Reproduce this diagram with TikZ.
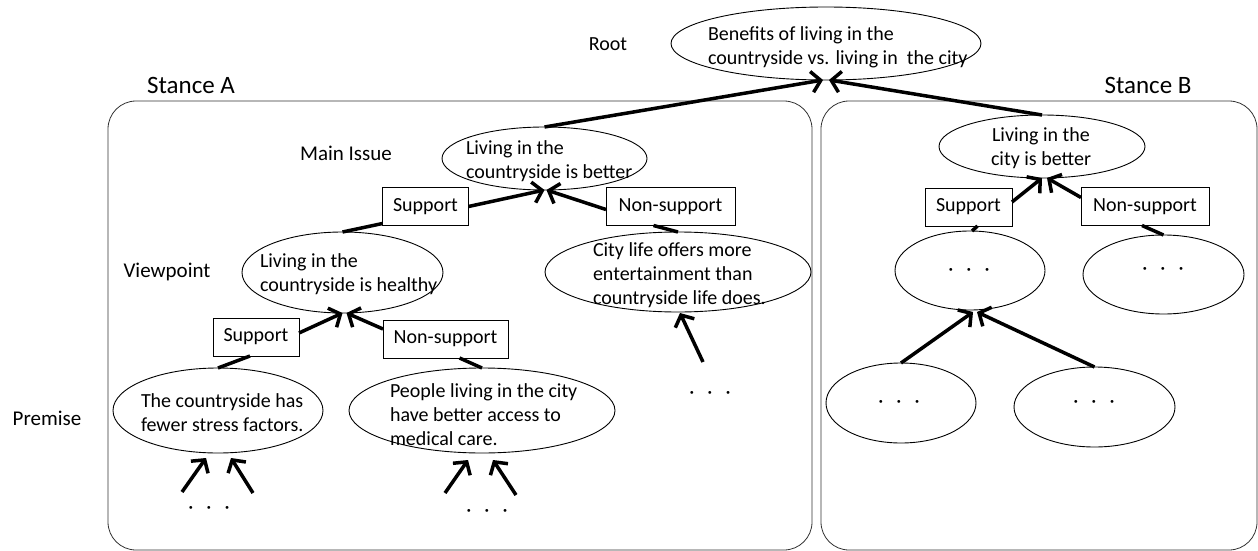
\documentclass[tikz,border=0pt]{standalone}
\usepackage{fontspec}
\setmainfont{Carlito}
\usetikzlibrary{shapes.geometric,arrows.meta}
\begin{document}
\begin{tikzpicture}[x=1pt,y=-1pt,
  every node/.style={font=\fontsize{20}{24}\selectfont, inner sep=0pt, outer sep=0pt},
  oval/.style={draw, ellipse, line width=0.9pt, inner sep=0pt},
  txt/.style={align=left, anchor=west},
  lbl/.style={anchor=base},
  stance/.style={anchor=base, font=\fontsize{25}{30}\selectfont},
  rel/.style={draw, rectangle, line width=0.9pt, minimum height=38pt},
  arr/.style={line width=3.5pt, -{Straight Barb[length=9pt,width=21pt]}},
  link/.style={line width=3.5pt},
  frame/.style={draw, rounded corners=28pt, line width=0.8pt, black!80},
  dots/.style={anchor=base}]
\useasboundingbox (0,0) rectangle (1258,551);
% frames
\draw[frame] (108,101) rectangle (812,550);
\draw[frame] (821,101) rectangle (1257,550);
% labels
\node[stance] (stA) at (191,93) {Stance A};
\node[stance] (stB) at (1148,93) {Stance B};
\node[lbl] (lroot) at (608,51) {Root};
\node[lbl, font=\fontsize{21}{25}\selectfont] (lmain) at (346,160) {Main Issue};
\node[lbl, font=\fontsize{21}{25}\selectfont] (lview) at (167,277) {Viewpoint};
\node[lbl, font=\fontsize{21}{25}\selectfont] (lprem) at (47,425) {Premise};
% ellipses
\node[oval, minimum width=310pt, minimum height=73pt] (root) at (826,43.5) {};
\node[txt] (rootT) at (708,47) {Benefits of living in the\\countryside vs. living in \ the city};
\node[oval, minimum width=205pt, minimum height=63pt] (mainA) at (544.5,158.5) {};
\node[txt] (mainAT) at (466,161) {Living in the\\countryside is better};
\node[oval, minimum width=201pt, minimum height=81pt] (vp) at (342.5,272.5) {};
\node[txt] (vpT) at (260,274) {Living in the\\countryside is healthy};
\node[oval, minimum width=266pt, minimum height=80pt] (city) at (678,272) {};
\node[txt] (cityT) at (593,275) {City life offers more\\entertainment than\\countryside life does.};
\node[oval, minimum width=210pt, minimum height=85pt] (p1) at (218,410.5) {};
\node[txt] (p1T) at (141,413) {The countryside has\\fewer stress factors.};
\node[oval, minimum width=266pt, minimum height=85pt] (p2) at (482,410.5) {};
\node[txt] (p2T) at (390,415) {People living in the city\\have better access to\\medical care.};
\node[oval, minimum width=206pt, minimum height=63pt] (mainB) at (1042,146.5) {};
\node[align=center] (mainBT) at (1041,148.5) {Living in the\\city is better};
\node[oval, minimum width=150pt, minimum height=79pt] (b1) at (970,270.5) {};
\node[oval, minimum width=161pt, minimum height=79pt] (b2) at (1163.5,274.5) {};
\node[oval, minimum width=150pt, minimum height=80pt] (b3) at (901,403) {};
\node[oval, minimum width=161pt, minimum height=80pt] (b4) at (1094.5,407) {};
\node[dots] (b1d) at (969,275) {·\hspace{13pt}·\hspace{13pt}·};
\node[dots] (b2d) at (1163,274) {·\hspace{13pt}·\hspace{13pt}·};
\node[dots] (b3d) at (899,407) {·\hspace{13pt}·\hspace{13pt}·};
\node[dots] (b4d) at (1094,407) {·\hspace{13pt}·\hspace{13pt}·};
\node[dots] (d1) at (209,513) {·\hspace{13pt}·\hspace{13pt}·};
\node[dots] (d2) at (487,516) {·\hspace{13pt}·\hspace{13pt}·};
\node[dots] (d3) at (710,398) {·\hspace{13pt}·\hspace{13pt}·};
% relation boxes
\node[rel, minimum width=86pt] (supA) at (425.5,206.5) {Support};
\node[rel, minimum width=129pt] (nsA) at (670.5,206.5) {Non-support};
\node[rel, minimum width=86pt] (supA2) at (256,337) {Support};
\node[rel, minimum width=125pt] (nsA2) at (445.5,339) {Non-support};
\node[rel, minimum width=87pt] (supB) at (968.5,207) {Support};
\node[rel, minimum width=128pt] (nsB) at (1145,206.5) {Non-support};
% free ends
\coordinate (e1) at (182,492);
\coordinate (e2) at (253,493);
\coordinate (e3) at (445,493);
\coordinate (e4) at (516,495);
\coordinate (e5) at (703,362);
% connectors to root
\draw[arr] (mainA.north) -- ([xshift=-3pt]root.south);
\draw[arr] (mainB.north) -- ([xshift=3pt]root.south);
% stance A
\draw[arr] (supA.east) -- (mainA.south);
\draw[arr] ([yshift=-3pt]nsA.west) -- ([xshift=2pt]mainA.south);
\draw[link] (vp.north) -- ([yshift=2pt]supA.south west);
\draw[link] ([xshift=-17pt]nsA.south) -- (city.north);
\draw[arr] ([yshift=4pt]supA2.east) -- (vp.south);
\draw[arr] ([yshift=10pt]nsA2.west) -- ([xshift=4pt]vp.south);
\draw[link] (p1.north) -- ([xshift=-6pt]supA2.south);
\draw[link] ([xshift=14pt]nsA2.south) -- (p2.north);
\draw[arr] (e1) -- ([xshift=-12pt,yshift=-5pt]p1.south);
\draw[arr] (e2) -- ([xshift=13pt,yshift=-5pt]p1.south);
\draw[arr] (e3) -- ([xshift=-14pt,yshift=-7pt]p2.south);
\draw[arr] (e4) -- ([xshift=11pt,yshift=-7pt]p2.south);
\draw[arr] (e5) -- ([xshift=2pt,yshift=-1pt]city.south);
% stance B
\draw[arr] ([yshift=5pt]supB.east) -- (mainB.south);
\draw[arr] ([yshift=9pt]nsB.west) -- ([xshift=5pt]mainB.south);
\draw[link] ([xshift=2pt]b1.north) -- ([xshift=9pt]supB.south);
\draw[link] ([xshift=-3pt]nsB.south) -- (b2.north);
\draw[arr] (b3.north) -- ([xshift=3pt,yshift=-2pt]b1.south);
\draw[arr] (b4.north) -- ([xshift=7pt,yshift=-2pt]b1.south);
\end{tikzpicture}
\end{document}
